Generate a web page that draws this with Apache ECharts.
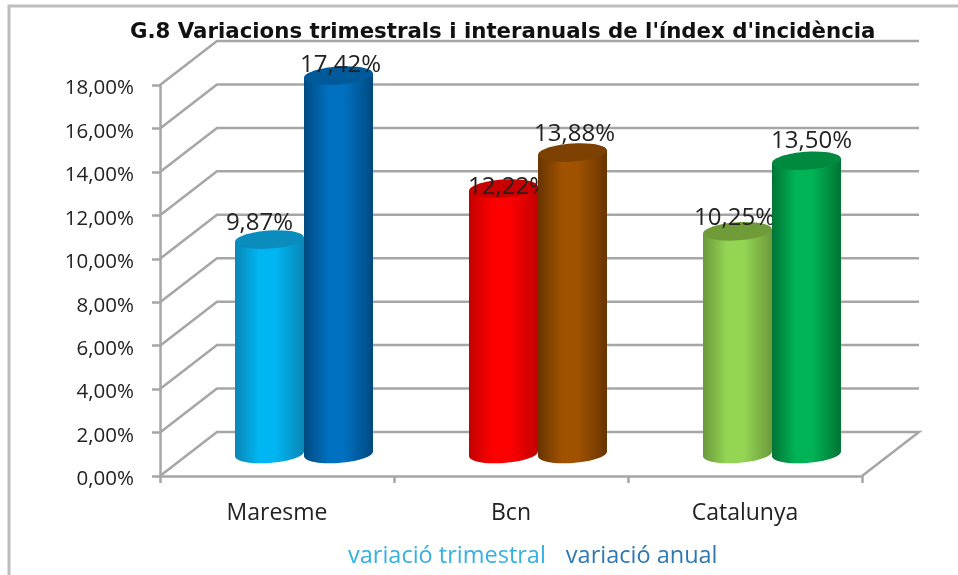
<!DOCTYPE html>
<html>
<head>
<meta charset="utf-8">
<style>html,body{margin:0;padding:0;background:#fff}#c{width:958px;height:575px}</style>
<script src="https://cdn.jsdelivr.net/npm/echarts@6/dist/echarts.min.js"></script>
</head>
<body>
<div id="c"></div>
<script>
const categories = ['Maresme', 'Bcn', 'Catalunya'];
const trimestral = [9.87, 12.22, 10.25];
const anual = [17.42, 13.88, 13.50];
const yTicks = [0, 2, 4, 6, 8, 10, 12, 14, 16, 18];
const titleText = "G.8 Variacions trimestrals i interanuals de l'índex d'incidència";
const nameTrim = 'variació trimestral';
const nameAnual = 'variació anual';

// [mid, edge, top] per category
const trimColors = [['#00b6f2', '#0a86b6', '#0a8dbd'], ['#ff0000', '#c40000', '#c80000'], ['#94d654', '#6c9a3c', '#6f9c38']];
const anualColors = [['#0070c0', '#004a80', '#005a9a'], ['#a05200', '#683400', '#7c4000'], ['#00b455', '#007436', '#008a40']];
// fine placement of the data labels relative to each cylinder top
const trimLabelShift = [[-10, -16], [5, -1], [-3, -13]];
const anualLabelShift = [[2, -10], [2, -18], [5, -20]];

const GRID = '#a6a6a6';
const WALL_DX = 57, WALL_DY = 44, MID_DX = 27, MID_DY = 22, CYL_W = 69, RY = 9, TILT = 0.07;
const fmt = v => v.toFixed(2).replace('.', ',') + '%';

function cylinder(colors, shifts, side) {
  return function (params, api) {
    const i = api.value(0), v = api.value(1);
    const base = api.coord([i, 0]), top = api.coord([i, v]);
    const cx = base[0] + MID_DX + side * CYL_W / 2;
    const yb = base[1] - MID_DY, yt = top[1] - MID_DY;
    const hw = CYL_W / 2, t = hw * TILT;
    const [mid, edge, cap] = colors[i];
    const grad = new echarts.graphic.LinearGradient(0, 0, 1, 0, [
      { offset: 0, color: edge }, { offset: 0.35, color: mid }, { offset: 0.58, color: mid }, { offset: 1, color: edge }
    ]);
    return {
      type: 'group',
      children: [
        { type: 'ellipse', shape: { cx: 0, cy: 0, rx: hw, ry: RY }, x: cx, y: yb, rotation: TILT, style: { fill: grad } },
        { type: 'polygon', shape: { points: [[cx - hw, yt + t], [cx + hw, yt - t], [cx + hw, yb - t], [cx - hw, yb + t]] }, style: { fill: grad } },
        { type: 'ellipse', shape: { cx: 0, cy: 0, rx: hw, ry: RY }, x: cx, y: yt, rotation: TILT, style: { fill: cap } },
        { type: 'text', z2: 100, x: cx + shifts[i][0], y: yt + shifts[i][1],
          style: { text: fmt(v), fill: '#222', font: '24px "Open Sans"', textAlign: 'center', textVerticalAlign: 'middle' } }
      ]
    };
  };
}

function wall(params, api) {
  const v = api.value(1), cs = params.coordSys;
  const y = api.coord([0, v])[1];
  const x0 = cs.x, x1 = cs.x + cs.width;
  const pts = [[x0, y], [x0 + WALL_DX, y - WALL_DY], [x1 + WALL_DX, y - WALL_DY]];
  if (v === 0) pts.push([x1, y]);
  return { type: 'polyline', shape: { points: pts }, style: { stroke: GRID, lineWidth: 2.5, fill: null } };
}

const chart = echarts.init(document.getElementById('c'), null, { renderer: 'canvas' });
chart.setOption({
  animation: false,
  backgroundColor: '#fff',
  title: { text: titleText, left: 130, top: 22, padding: 0,
    textStyle: { fontFamily: 'DejaVu Sans', fontWeight: 'bold', fontSize: 21.3, color: '#111' } },
  legend: {
    left: 348, top: 544, padding: 0, itemWidth: 0, itemHeight: 0, itemGap: 20,
    selectedMode: false,
    data: [
      { name: nameTrim, textStyle: { color: '#36b0e0' } },
      { name: nameAnual, textStyle: { color: '#2e78b4' } }
    ],
    textStyle: { fontFamily: 'Open Sans', fontSize: 23.5, padding: [0, 0, 0, -5] }
  },
  grid: { left: 160, right: 96, top: 85, bottom: 99 },
  xAxis: {
    type: 'category', data: categories,
    axisLine: { lineStyle: { color: GRID, width: 2.5 } },
    axisTick: { show: true, length: 7, lineStyle: { color: GRID, width: 2.5 } },
    axisLabel: { fontFamily: 'Open Sans', fontSize: 23, color: '#222', margin: 26 }
  },
  yAxis: {
    type: 'value', min: 0, max: 18, interval: 2,
    axisLine: { show: true, lineStyle: { color: GRID, width: 2.5 } },
    axisTick: { show: true, length: 8, lineStyle: { color: GRID, width: 2.5 } },
    splitLine: { show: false },
    axisLabel: { fontFamily: 'Open Sans', fontSize: 20.5, color: '#222', margin: 26, verticalAlign: 'top', lineHeight: 7, formatter: fmt }
  },
  graphic: [{ type: 'polyline', silent: true, z: -1,
    shape: { points: [[9, 575], [9, 6], [958, 6]] },
    style: { stroke: '#bdbdbd', lineWidth: 3, fill: null } }],
  series: [
    { type: 'custom', name: 'wall', silent: true, clip: false, renderItem: wall, z: 1,
      data: yTicks.map(v => [0, v]), encode: { x: 0, y: 1 } },
    { type: 'custom', name: nameTrim, silent: true, clip: false, z: 3, renderItem: cylinder(trimColors, trimLabelShift, -1),
      data: trimestral.map((v, i) => [i, v]), encode: { x: 0, y: 1 } },
    { type: 'custom', name: nameAnual, silent: true, clip: false, z: 4, renderItem: cylinder(anualColors, anualLabelShift, 1),
      data: anual.map((v, i) => [i, v]), encode: { x: 0, y: 1 } }
  ]
});
</script>
</body>
</html>
